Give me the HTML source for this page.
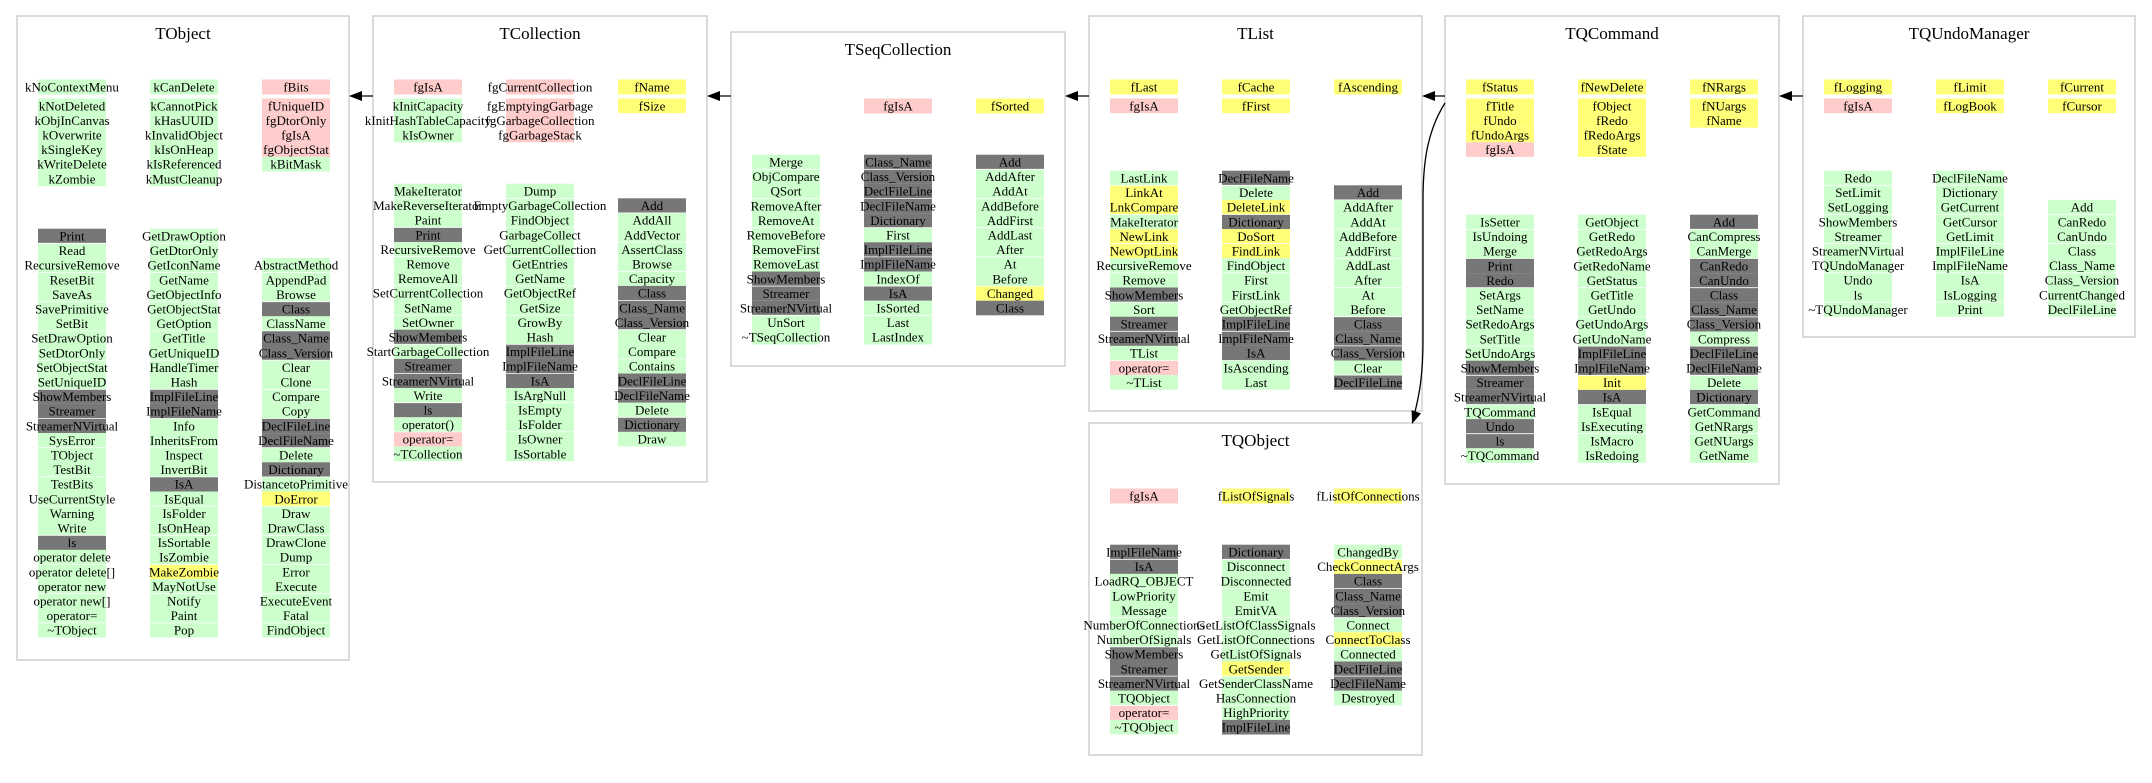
<!DOCTYPE html>
<html><head><meta charset="utf-8"><title>TQCommand inheritance</title>
<style>
html,body{margin:0;padding:0;background:#fff;}
svg{display:block;}
text{font-family:"Liberation Serif",serif;}
</style></head>
<body>
<svg id="diagram" xmlns="http://www.w3.org/2000/svg" width="2152" height="783" viewBox="0 0 2152 783"></svg>
<script>
// Class names
const classNames = ["TObject","TCollection","TSeqCollection","TList","TQObject","TQCommand","TQUndoManager"];
// Member columns per class (name:colour ; G=green public, P=pink private, Y=yellow protected, D=grey)
const tobjFields = [
 ["kNoContextMenu:G","kNotDeleted:G","kObjInCanvas:G","kOverwrite:G","kSingleKey:G","kWriteDelete:G","kZombie:G"],
 ["kCanDelete:G","kCannotPick:G","kHasUUID:G","kInvalidObject:G","kIsOnHeap:G","kIsReferenced:G","kMustCleanup:G"],
 ["fBits:P","fUniqueID:P","fgDtorOnly:P","fgIsA:P","fgObjectStat:P","kBitMask:G"]];
const tobjMethods = [
 ["Print:D","Read:G","RecursiveRemove:G","ResetBit:G","SaveAs:G","SavePrimitive:G","SetBit:G","SetDrawOption:G","SetDtorOnly:G","SetObjectStat:G","SetUniqueID:G","ShowMembers:D","Streamer:D","StreamerNVirtual:D","SysError:G","TObject:G","TestBit:G","TestBits:G","UseCurrentStyle:G","Warning:G","Write:G","ls:D","operator delete:G","operator delete[]:G","operator new:G","operator new[]:G","operator=:G","~TObject:G"],
 ["GetDrawOption:G","GetDtorOnly:G","GetIconName:G","GetName:G","GetObjectInfo:G","GetObjectStat:G","GetOption:G","GetTitle:G","GetUniqueID:G","HandleTimer:G","Hash:G","ImplFileLine:D","ImplFileName:D","Info:G","InheritsFrom:G","Inspect:G","InvertBit:G","IsA:D","IsEqual:G","IsFolder:G","IsOnHeap:G","IsSortable:G","IsZombie:G","MakeZombie:Y","MayNotUse:G","Notify:G","Paint:G","Pop:G"],
 ["AbstractMethod:G","AppendPad:G","Browse:G","Class:D","ClassName:G","Class_Name:D","Class_Version:D","Clear:G","Clone:G","Compare:G","Copy:G","DeclFileLine:D","DeclFileName:D","Delete:G","Dictionary:D","DistancetoPrimitive:G","DoError:Y","Draw:G","DrawClass:G","DrawClone:G","Dump:G","Error:G","Execute:G","ExecuteEvent:G","Fatal:G","FindObject:G"]];
const tcolFields = [
 ["fgIsA:P","kInitCapacity:G","kInitHashTableCapacity:G","kIsOwner:G"],
 ["fgCurrentCollection:P","fgEmptyingGarbage:P","fgGarbageCollection:P","fgGarbageStack:P"],
 ["fName:Y","fSize:Y"]];
const tcolMethods = [
 ["MakeIterator:G","MakeReverseIterator:G","Paint:G","Print:D","RecursiveRemove:G","Remove:G","RemoveAll:G","SetCurrentCollection:G","SetName:G","SetOwner:G","ShowMembers:D","StartGarbageCollection:G","Streamer:D","StreamerNVirtual:D","Write:G","ls:D","operator():G","operator=:P","~TCollection:G"],
 ["Dump:G","EmptyGarbageCollection:G","FindObject:G","GarbageCollect:G","GetCurrentCollection:G","GetEntries:G","GetName:G","GetObjectRef:G","GetSize:G","GrowBy:G","Hash:G","ImplFileLine:D","ImplFileName:D","IsA:D","IsArgNull:G","IsEmpty:G","IsFolder:G","IsOwner:G","IsSortable:G"],
 ["Add:D","AddAll:G","AddVector:G","AssertClass:G","Browse:G","Capacity:G","Class:D","Class_Name:D","Class_Version:D","Clear:G","Compare:G","Contains:G","DeclFileLine:D","DeclFileName:D","Delete:G","Dictionary:D","Draw:G"]];
const tseqFields = [[],["fgIsA:P"],["fSorted:Y"]];
const tseqMethods = [
 ["Merge:G","ObjCompare:G","QSort:G","RemoveAfter:G","RemoveAt:G","RemoveBefore:G","RemoveFirst:G","RemoveLast:G","ShowMembers:D","Streamer:D","StreamerNVirtual:D","UnSort:G","~TSeqCollection:G"],
 ["Class_Name:D","Class_Version:D","DeclFileLine:D","DeclFileName:D","Dictionary:D","First:G","ImplFileLine:D","ImplFileName:D","IndexOf:G","IsA:D","IsSorted:G","Last:G","LastIndex:G"],
 ["Add:D","AddAfter:G","AddAt:G","AddBefore:G","AddFirst:G","AddLast:G","After:G","At:G","Before:G","Changed:Y","Class:D"]];
const tlistFields = [["fLast:Y","fgIsA:P"],["fCache:Y","fFirst:Y"],["fAscending:Y"]];
const tlistMethods = [
 ["LastLink:G","LinkAt:Y","LnkCompare:Y","MakeIterator:G","NewLink:Y","NewOptLink:Y","RecursiveRemove:G","Remove:G","ShowMembers:D","Sort:G","Streamer:D","StreamerNVirtual:D","TList:G","operator=:P","~TList:G"],
 ["DeclFileName:D","Delete:G","DeleteLink:Y","Dictionary:D","DoSort:Y","FindLink:Y","FindObject:G","First:G","FirstLink:G","GetObjectRef:G","ImplFileLine:D","ImplFileName:D","IsA:D","IsAscending:G","Last:G"],
 ["Add:D","AddAfter:G","AddAt:G","AddBefore:G","AddFirst:G","AddLast:G","After:G","At:G","Before:G","Class:D","Class_Name:D","Class_Version:D","Clear:G","DeclFileLine:D"]];
const tqobjFields = [["fgIsA:P"],["fListOfSignals:Y"],["fListOfConnections:Y"]];
const tqobjMethods = [
 ["ImplFileName:D","IsA:D","LoadRQ_OBJECT:G","LowPriority:G","Message:G","NumberOfConnections:G","NumberOfSignals:G","ShowMembers:D","Streamer:D","StreamerNVirtual:D","TQObject:G","operator=:P","~TQObject:G"],
 ["Dictionary:D","Disconnect:G","Disconnected:G","Emit:G","EmitVA:G","GetListOfClassSignals:G","GetListOfConnections:G","GetListOfSignals:G","GetSender:Y","GetSenderClassName:G","HasConnection:G","HighPriority:G","ImplFileLine:D"],
 ["ChangedBy:G","CheckConnectArgs:Y","Class:D","Class_Name:D","Class_Version:D","Connect:G","ConnectToClass:Y","Connected:G","DeclFileLine:D","DeclFileName:D","Destroyed:G"]];
const tqcmdFields = [
 ["fStatus:Y","fTitle:Y","fUndo:Y","fUndoArgs:Y","fgIsA:P"],
 ["fNewDelete:Y","fObject:Y","fRedo:Y","fRedoArgs:Y","fState:Y"],
 ["fNRargs:Y","fNUargs:Y","fName:Y"]];
const tqcmdMethods = [
 ["IsSetter:G","IsUndoing:G","Merge:G","Print:D","Redo:D","SetArgs:G","SetName:G","SetRedoArgs:G","SetTitle:G","SetUndoArgs:G","ShowMembers:D","Streamer:D","StreamerNVirtual:D","TQCommand:G","Undo:D","ls:D","~TQCommand:G"],
 ["GetObject:G","GetRedo:G","GetRedoArgs:G","GetRedoName:G","GetStatus:G","GetTitle:G","GetUndo:G","GetUndoArgs:G","GetUndoName:G","ImplFileLine:D","ImplFileName:D","Init:Y","IsA:D","IsEqual:G","IsExecuting:G","IsMacro:G","IsRedoing:G"],
 ["Add:D","CanCompress:G","CanMerge:G","CanRedo:D","CanUndo:D","Class:D","Class_Name:D","Class_Version:D","Compress:G","DeclFileLine:D","DeclFileName:D","Delete:G","Dictionary:D","GetCommand:G","GetNRargs:G","GetNUargs:G","GetName:G"]];
const tqumFields = [["fLogging:Y","fgIsA:P"],["fLimit:Y","fLogBook:Y"],["fCurrent:Y","fCursor:Y"]];
const tqumMethods = [
 ["Redo:G","SetLimit:G","SetLogging:G","ShowMembers:G","Streamer:G","StreamerNVirtual:G","TQUndoManager:G","Undo:G","ls:G","~TQUndoManager:G"],
 ["DeclFileName:G","Dictionary:G","GetCurrent:G","GetCursor:G","GetLimit:G","ImplFileLine:G","ImplFileName:G","IsA:G","IsLogging:G","Print:G"],
 ["Add:G","CanRedo:G","CanUndo:G","Class:G","Class_Name:G","Class_Version:G","CurrentChanged:G","DeclFileLine:G"]];

const COLORS = {G:"#ccffcc",P:"#ffcccc",Y:"#ffff77",D:"#777777"};
const PITCH = 14.6;
const svg = document.getElementById('diagram');
const NS = "http://www.w3.org/2000/svg";
function mk(tag, attrs){const e=document.createElementNS(NS,tag);for(const k in attrs)e.setAttribute(k,attrs[k]);return e;}

// layout: box geometry, field row y, method column start rows
const layout = [
 {x:17,y:16,w:332,h:644,fy:87,my:236,mOff:[0,0,2],fields:tobjFields,methods:tobjMethods},
 {x:373,y:16,w:334,h:466,fy:87,my:191,mOff:[0,0,1],fields:tcolFields,methods:tcolMethods},
 {x:731,y:32,w:334,h:334,fy:106,my:162,mOff:[0,0,0],fields:tseqFields,methods:tseqMethods},
 {x:1089,y:16,w:333,h:395,fy:87,my:178,mOff:[0,0,1],fields:tlistFields,methods:tlistMethods},
 {x:1089,y:423,w:333,h:332,fy:496,my:552,mOff:[0,0,0],fields:tqobjFields,methods:tqobjMethods},
 {x:1445,y:16,w:334,h:468,fy:87,my:222,mOff:[0,0,0],fields:tqcmdFields,methods:tqcmdMethods},
 {x:1803,y:16,w:332,h:321,fy:87,my:178,mOff:[0,0,2],fields:tqumFields,methods:tqumMethods}];
const colCenters=[55,167,279];

function cell(g,cx,cy,h,item,kind){
  const [name,c]=item.split(':');
  const r=mk('rect',{x:cx-34,y:cy-h/2,width:68,height:h,fill:COLORS[c]});
  
  
  g.appendChild(r);
  const t=mk('text',{x:cx,y:cy+4.5,'text-anchor':'middle','font-size':'13',fill:'#000'});
  
  
  t.textContent=name;
  g.appendChild(t);
}

layout.forEach((b,i)=>{
  const g=mk('g',{});
  
  
  svg.appendChild(g);
  const r=mk('rect',{x:b.x,y:b.y,width:b.w,height:b.h,fill:'#fff',stroke:'#cfcfcf','stroke-width':'1.5'});
  
  
  g.appendChild(r);
  const t=mk('text',{x:b.x+b.w/2,y:b.y+23,'text-anchor':'middle','font-size':'17',fill:'#000'});
  
  
  t.textContent=classNames[i];
  g.appendChild(t);
  b.fields.forEach((col,ci)=>{
    col.forEach((it,k)=>{
      const cy = k===0 ? b.fy : b.fy+18.8+(k-1)*PITCH;
      cell(g,b.x+colCenters[ci],cy,k===0?15:PITCH,it,'field');
    });
  });
  b.methods.forEach((col,ci)=>{
    col.forEach((it,k)=>{
      const cy=b.my+(k+b.mOff[ci])*PITCH;
      cell(g,b.x+colCenters[ci],cy,PITCH,it,'method');
    });
    // thin white separators
    for(let k=1;k<col.length;k+=2){
      const cy=b.my+(k+b.mOff[ci])*PITCH-PITCH/2;
      const l=mk('line',{x1:b.x+colCenters[ci]-34,x2:b.x+colCenters[ci]+34,y1:cy,y2:cy,stroke:'#fff','stroke-width':'0.8'});
      
      
      g.insertBefore(l, null);
    }
  });
});

// inheritance arrows (child -> parent)
function arrowHead(x,y,dx,dy){
  const L=13,W=5;const len=Math.hypot(dx,dy);const ux=dx/len,uy=dy/len;
  const bx=x-ux*L,by=y-uy*L;
  return `${x},${y} ${bx-uy*W},${by+ux*W} ${bx+uy*W},${by-ux*W}`;
}
const arrows=[[373,349],[731,707],[1089,1065],[1445,1422],[1803,1779]];
arrows.forEach(a=>{
  const l=mk('line',{x1:a[0],y1:96,x2:a[1]+2,y2:96,stroke:'#000','stroke-width':'1.3'});
  
  
  svg.appendChild(l);
  const p=mk('polygon',{points:arrowHead(a[1],96,-1,0),fill:'#000'});
  
  
  svg.appendChild(p);
});
const curve=mk('path',{d:'M1445,103 C1428,130 1423,160 1423,200 L1423,340 C1423,380 1418,400 1414,416',fill:'none',stroke:'#000','stroke-width':'1.3'});


svg.appendChild(curve);
const ch=mk('polygon',{points:arrowHead(1412,424,-0.35,1),fill:'#000'});


svg.appendChild(ch);
</script>
</body></html>
